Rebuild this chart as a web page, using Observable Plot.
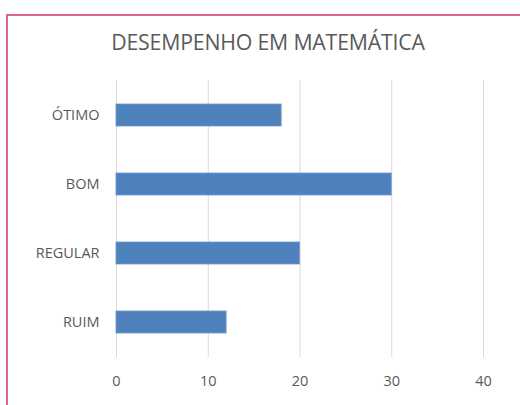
<!DOCTYPE html>
<html>
<head>
<meta charset="utf-8">
<script src="https://cdn.jsdelivr.net/npm/d3@7"></script>
<script src="https://cdn.jsdelivr.net/npm/@observablehq/plot@0.6"></script>
<style>
  html, body { margin: 0; padding: 0; background: #fff; }
  #wrap { position: relative; width: 520px; height: 405px; overflow: hidden; font-family: "Open Sans", Lato, sans-serif; }
  #frame { position: absolute; left: 6px; top: 14px; width: 600px; height: 500px; border-left: 2px solid #e0648f; border-top: 2px solid #e0648f; }
  #title { position: absolute; left: 0; width: 536px; top: 27px; text-align: center; font-size: 21.3px; color: #595959; letter-spacing: -0.2px; }
  #chart { position: absolute; left: 0; top: 0; }
</style>
</head>
<body>
<div id="wrap">
  <div id="frame"></div>
  <div id="title">DESEMPENHO EM MATEMÁTICA</div>
  <div id="chart"></div>
</div>
<script>
const categories = ["ÓTIMO", "BOM", "REGULAR", "RUIM"];
const values = [18, 30, 20, 12];
const xTicks = [0, 10, 20, 30, 40];

const data = categories.map((c, i) => ({category: c, value: values[i]}));

const plot = Plot.plot({
  width: 520,
  height: 405,
  marginLeft: 116,
  marginRight: 37,
  marginTop: 80,
  marginBottom: 48,
  style: { background: "transparent", fontFamily: "'Open Sans', Lato, sans-serif", fontSize: "14.5px", color: "#595959" },
  x: { domain: [0, 40], ticks: xTicks, label: null, tickSize: 0, tickPadding: 18 },
  y: { domain: categories, label: null, tickSize: 0, tickPadding: 17, paddingInner: 0.68, paddingOuter: 0.34 },
  marks: [
    Plot.gridX(xTicks, { stroke: "#d9d9d9", strokeOpacity: 1, strokeWidth: 1 }),
    Plot.barX(data, { x: "value", y: "category", fill: "#4f81bd", stroke: "#6f97c9", strokeWidth: 0.8 }),
    Plot.axisX({ ticks: xTicks, tickSize: 0, tickPadding: 18, fill: "#595959", fontSize: 14.5 }),
    Plot.axisY({ tickSize: 0, tickPadding: 17, fill: "#595959", fontSize: 14.5 })
  ]
});
document.getElementById("chart").appendChild(plot);
</script>
</body>
</html>
